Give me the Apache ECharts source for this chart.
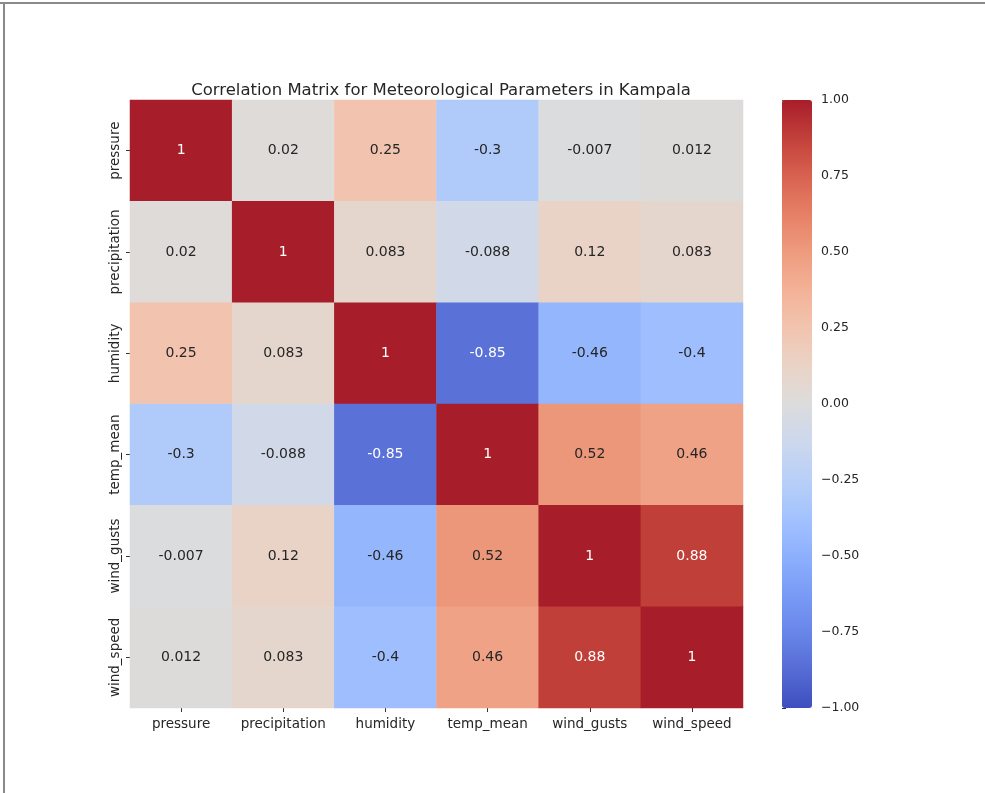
<!DOCTYPE html>
<html>
<head>
<meta charset="utf-8">
<script src="https://cdn.jsdelivr.net/npm/echarts@6/dist/echarts.min.js"></script>
<style>
html,body{margin:0;padding:0;background:#fff;}
#chart{width:985px;height:793px;}
</style>
</head>
<body>
<div id="chart"></div>
<script>
var params = ['pressure', 'precipitation', 'humidity', 'temp_mean', 'wind_gusts', 'wind_speed'];
var rowPressure      = [1, 0.02, 0.25, -0.3, -0.007, 0.012];
var rowPrecipitation = [0.02, 1, 0.083, -0.088, 0.12, 0.083];
var rowHumidity      = [0.25, 0.083, 1, -0.85, -0.46, -0.4];
var rowTempMean      = [-0.3, -0.088, -0.85, 1, 0.52, 0.46];
var rowWindGusts     = [-0.007, 0.12, -0.46, 0.52, 1, 0.88];
var rowWindSpeed     = [0.012, 0.083, -0.4, 0.46, 0.88, 1];
var colorbarTicks = [-1, -0.75, -0.5, -0.25, 0, 0.25, 0.5, 0.75, 1];

var rows = [rowPressure, rowPrecipitation, rowHumidity, rowTempMean, rowWindGusts, rowWindSpeed];
var coolwarm = [
  [62,78,190],[86,108,212],[104,134,233],[121,155,246],[141,176,253],[163,194,254],[184,207,248],[204,216,237],
  [220,220,220],[234,211,198],[242,196,175],[243,178,151],[238,155,126],[230,128,102],[216,98,80],[194,64,58],[168,29,42]
].map(function(c){return 'rgb(' + c.join(',') + ')';});

var data = [];
rows.forEach(function(r, i){
  r.forEach(function(v, j){
    var dark = (v > 0.75 || v < -0.7);
    data.push({value: [j, i, v], label: {color: dark ? '#ffffff' : '#262626'}});
  });
});

var FONT = 'DejaVu Sans';
var chart = echarts.init(document.getElementById('chart'), null, {renderer: 'canvas'});
chart.setOption({
  backgroundColor: '#ffffff',
  animation: false,
  title: {
    text: 'Correlation Matrix for Meteorological Parameters in Kampala',
    left: 436, top: 77, textAlign: 'center',
    textStyle: {fontFamily: FONT, fontSize: 16.5, fontWeight: 'normal', color: '#262626'}
  },
  graphic: [
    {type: 'rect', shape: {x: 0, y: 2, width: 985, height: 2}, style: {fill: '#8a8a8a'}, silent: true},
    {type: 'rect', shape: {x: 3, y: 2, width: 2, height: 791}, style: {fill: '#8a8a8a'}, silent: true}
  ],
  grid: [
    {left: 130, right: 242, top: 100, bottom: 85},
    {left: 782, width: 30, top: 100, bottom: 85}
  ],
  xAxis: [
    {
      type: 'category', data: params, gridIndex: 0, position: 'bottom',
      axisLine: {show: false},
      axisTick: {show: true, alignWithLabel: true, interval: 0, length: 4, lineStyle: {color: '#333'}},
      axisLabel: {fontFamily: FONT, fontSize: 13.5, color: '#262626', margin: 9, interval: 0},
      splitLine: {show: false}
    },
    {type: 'value', gridIndex: 1, show: false, min: 0, max: 1}
  ],
  yAxis: [
    {
      type: 'category', data: params, gridIndex: 0, inverse: true,
      axisLine: {show: false},
      axisTick: {show: true, alignWithLabel: true, interval: 0, length: 4, lineStyle: {color: '#333'}},
      axisLabel: {fontFamily: FONT, fontSize: 13.5, color: '#262626', rotate: 90, margin: 8, interval: 0},
      splitLine: {show: false}
    },
    {
      type: 'value', gridIndex: 1, position: 'right', min: -1, max: 1, interval: 0.25,
      axisLine: {show: false},
      axisTick: {show: true, length: 4, lineStyle: {color: '#333'}},
      axisLabel: {
        fontFamily: FONT, fontSize: 12.5, color: '#262626', margin: 9,
        formatter: function(v){
          if (colorbarTicks.indexOf(v) < 0) return '';
          return v < 0 ? '\u2212' + Math.abs(v).toFixed(2) : v.toFixed(2);
        }
      },
      splitLine: {show: false}
    }
  ],
  visualMap: {
    type: 'continuous', min: -1, max: 1, seriesIndex: 0,
    orient: 'vertical', left: 782, top: 100, itemWidth: 30, itemHeight: 608,
    padding: 0, calculable: false, text: null, hoverLink: false,
    inRange: {color: coolwarm}
  },
  series: [
    {
      type: 'heatmap', xAxisIndex: 0, yAxisIndex: 0, data: data,
      itemStyle: {borderWidth: 0},
      label: {
        show: true, fontFamily: FONT, fontSize: 14,
        formatter: function(p){ return String(p.value[2]); }
      },
      emphasis: {disabled: true}
    },
    {type: 'line', xAxisIndex: 1, yAxisIndex: 1, data: [], silent: true}
  ]
});
</script>
</body>
</html>
